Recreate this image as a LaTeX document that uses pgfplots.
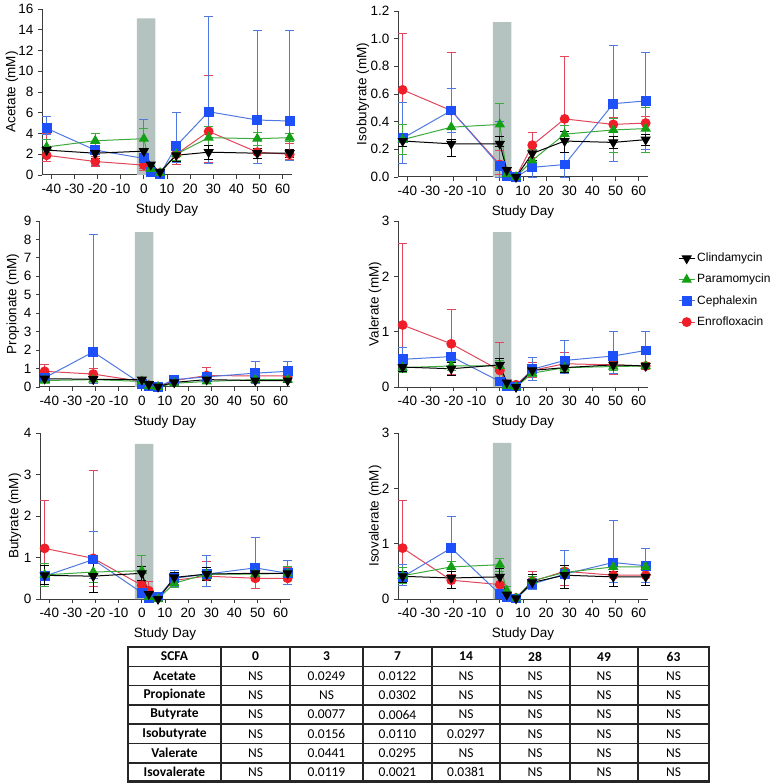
\documentclass[border=0pt]{standalone}
\usepackage{pgfplots}
\pgfplotsset{compat=1.18}
\usepackage{fontspec}
\setmainfont{Liberation Sans}
\newfontfamily\tabfont{Carlito}
\newcommand\tkfont{\fontsize{13.5}{15}\selectfont}
\newcommand\lbfont{\fontsize{13.5}{15}\selectfont}
\newcommand\lgfont{\fontsize{12}{14}\selectfont}
\newcommand\tbfont{\tabfont\fontsize{13.5}{15}\selectfont}
\newcommand\tbbfont{\tabfont\bfseries\fontsize{13.5}{15}\selectfont}
\definecolor{cgreen}{RGB}{20,160,20}
\definecolor{cgreenl}{RGB}{60,170,60}
\definecolor{cblue}{RGB}{30,80,250}
\definecolor{cbluel}{RGB}{80,120,225}
\definecolor{cred}{RGB}{240,30,40}
\definecolor{credl}{RGB}{225,70,90}
\definecolor{barc}{RGB}{180,194,192}
\definecolor{axc}{RGB}{60,60,60}
\pgfplotsset{
  panel/.style={
    scale only axis, width=250pt, height=166pt,
    axis lines=left, axis line style={-, line width=1pt, axc},
    xmin=-44, xmax=64, ymin=0, clip=false,
    xtick={-40,-30,...,60},
    xticklabels={-40,-30,-20,-10,0,10,20,30,40,50,60},
    tick align=outside, major tick length=4pt,
    tick style={line width=0.9pt, axc},
    xticklabel style={font=\tkfont},
    yticklabel style={font=\tkfont},
    xlabel={Study Day},
    xlabel style={font=\lbfont, at={(axis description cs:0.5,0)}, anchor=north, yshift=-24pt},
    every axis y label/.style={rotate=90, anchor=center, font=\lbfont},
  },
  ylab/.style={ylabel style={at={([xshift=-#1]axis description cs:0,0.5)}}},
  mylegimg/.style={legend image code/.code={\draw[mark repeat=2,mark phase=2,##1] plot coordinates {(0pt,0pt) (8pt,0pt) (16pt,0pt)};}},
  clin/.style={color=black, line width=1pt, mark=triangle*, mark size=5pt,
    mark options={rotate=180, fill=black, draw=black},
    error bars/.cd, y dir=both, y explicit,
    error bar style={line width=0.8pt, black},
    error mark options={rotate=90, mark size=4.5pt, line width=0.8pt, black}},
  para/.style={color=cgreenl, line width=1pt, mark=triangle*, mark size=5pt,
    mark options={fill=cgreen, draw=cgreen},
    error bars/.cd, y dir=both, y explicit,
    error bar style={line width=0.8pt, cgreenl},
    error mark options={rotate=90, mark size=4.5pt, line width=0.8pt, cgreenl}},
  ceph/.style={color=cbluel, line width=1pt, mark=square*, mark size=4.4pt,
    mark options={fill=cblue, draw=cblue},
    error bars/.cd, y dir=both, y explicit,
    error bar style={line width=0.8pt, cbluel},
    error mark options={rotate=90, mark size=4.5pt, line width=0.8pt, cbluel}},
  enro/.style={color=credl, line width=1pt, mark=*, mark size=4.4pt,
    mark options={fill=cred, draw=cred},
    error bars/.cd, y dir=both, y explicit,
    error bar style={line width=0.8pt, credl},
    error mark options={rotate=90, mark size=4.5pt, line width=0.8pt, credl}},
  table/tbl/.style={x=x,y=y,y error plus=p,y error minus=m,row sep=\\},
}
\begin{document}
\fontsize{13.5}{15}\selectfont
\begin{tikzpicture}
% Acetate
\begin{axis}[panel, at={(42pt,-9pt)}, anchor=north west, ymax=16,
  ytick={0,2,...,16}, yticklabels={0,2,4,6,8,10,12,14,16}, ylabel={Acetate (mM)}, ylab=30pt]
\addplot[draw=none, fill=barc, forget plot] coordinates {(-3,0) (5,0) (5,15.1) (-3,15.1)} \closedcycle;
\addplot[enro] table[tbl]{x y p m\\-42 1.9 2.1 0.6\\-21 1.3 0.5 0.5\\0 0.95 0.6 0.5\\3 0.3 0.2 0.2\\7 0.2 0.1 0.1\\14 2.0 1.1 1.0\\28 4.2 5.4 3.0\\49 2.2 1.2 1.1\\63 2.0 1.0 0.5\\};
\addplot[ceph] table[tbl]{x y p m\\-42 4.5 1.1 0.6\\-21 2.4 1.6 1.5\\0 1.6 3.8 1.0\\3 0.3 0.2 0.2\\7 0.05 0.05 0.05\\14 2.8 3.2 1.6\\28 6.1 9.2 5.0\\49 5.3 8.6 4.2\\63 5.2 8.7 3.8\\};
\addplot[para] table[tbl]{x y p m\\-42 2.7 0.7 0.7\\-21 3.3 0.7 0.7\\0 3.5 1.0 1.0\\3 0.6 0.3 0.3\\7 0.2 0.1 0.1\\14 2.0 0.6 0.6\\28 3.6 1.1 1.1\\49 3.5 0.6 0.6\\63 3.6 0.4 0.4\\};
\addplot[clin] table[tbl]{x y p m\\-42 2.4 0.4 0.4\\-21 2.1 0.5 0.5\\0 2.3 0.3 0.3\\3 1.0 0.2 0.2\\7 0.3 0.1 0.1\\14 1.9 0.6 0.6\\28 2.2 0.7 0.7\\49 2.1 0.5 0.5\\63 2.1 0.4 0.4\\};
\end{axis}
% Isobutyrate
\begin{axis}[panel, at={(398pt,-11pt)}, anchor=north west, ymax=1.2,
  ytick={0,0.2,0.4,0.6,0.8,1.0,1.2}, yticklabels={0.0,0.2,0.4,0.6,0.8,1.0,1.2}, ylabel={Isobutyrate (mM)}, ylab=35pt]
\addplot[draw=none, fill=barc, forget plot] coordinates {(-3,0) (5,0) (5,1.12) (-3,1.12)} \closedcycle;
\addplot[enro] table[tbl]{x y p m\\-42 0.63 0.41 0.41\\-21 0.48 0.42 0.33\\0 0.09 0.10 0.07\\3 0.04 0.02 0.02\\7 0.0 0.01 0.0\\14 0.23 0.09 0.09\\28 0.42 0.45 0.24\\49 0.38 0.05 0.05\\63 0.39 0.05 0.05\\};
\addplot[ceph] table[tbl]{x y p m\\-42 0.28 0.26 0.18\\-21 0.48 0.16 0.16\\0 0.08 0.32 0.08\\3 0.01 0.01 0.01\\7 0.0 0.0 0.0\\14 0.07 0.15 0.07\\28 0.09 0.09 0.09\\49 0.53 0.42 0.42\\63 0.55 0.35 0.35\\};
\addplot[para] table[tbl]{x y p m\\-42 0.27 0.11 0.11\\-21 0.36 0.12 0.11\\0 0.38 0.15 0.16\\3 0.02 0.01 0.01\\7 0.0 0.0 0.0\\14 0.12 0.08 0.07\\28 0.31 0.06 0.06\\49 0.34 0.08 0.16\\63 0.35 0.15 0.17\\};
\addplot[clin] table[tbl]{x y p m\\-42 0.26 0.04 0.04\\-21 0.24 0.03 0.09\\0 0.24 0.05 0.02\\3 0.05 0.02 0.02\\7 0.0 0.0 0.0\\14 0.17 0.05 0.05\\28 0.26 0.07 0.08\\49 0.25 0.04 0.04\\63 0.27 0.04 0.04\\};
\end{axis}
% Propionate
\begin{axis}[panel, at={(40pt,-221pt)}, anchor=north west, ymax=9,
  ytick={0,1,...,9}, yticklabels={0,1,2,3,4,5,6,7,8,9}, ylabel={Propionate (mM)}, ylab=27pt]
\addplot[draw=none, fill=barc, forget plot] coordinates {(-3,0) (5,0) (5,8.4) (-3,8.4)} \closedcycle;
\addplot[enro] table[tbl]{x y p m\\-42 0.85 0.4 0.4\\-21 0.7 0.3 0.3\\0 0.3 0.1 0.1\\3 0.1 0.05 0.05\\7 0.02 0.02 0.02\\14 0.35 0.1 0.1\\28 0.62 0.43 0.42\\49 0.6 0.2 0.2\\63 0.6 0.4 0.3\\};
\addplot[ceph] table[tbl]{x y p m\\-42 0.5 0.2 0.2\\-21 1.9 6.4 1.7\\0 0.15 0.1 0.1\\3 0.05 0.03 0.03\\7 0.02 0.02 0.02\\14 0.4 0.15 0.15\\28 0.55 0.15 0.15\\49 0.75 0.65 0.55\\63 0.85 0.55 0.55\\};
\addplot[para] table[tbl]{x y p m\\-42 0.35 0.1 0.1\\-21 0.4 0.1 0.1\\0 0.3 0.1 0.1\\3 0.05 0.03 0.03\\7 0.0 0.01 0.0\\14 0.2 0.08 0.08\\28 0.3 0.1 0.1\\49 0.4 0.1 0.1\\63 0.4 0.1 0.1\\};
\addplot[clin] table[tbl]{x y p m\\-42 0.45 0.1 0.1\\-21 0.42 0.1 0.1\\0 0.4 0.1 0.1\\3 0.15 0.05 0.05\\7 0.02 0.02 0.02\\14 0.25 0.08 0.08\\28 0.4 0.1 0.1\\49 0.35 0.1 0.1\\63 0.35 0.1 0.1\\};
\end{axis}
% Valerate
\begin{axis}[panel, at={(398pt,-221pt)}, anchor=north west, ymax=3,
  ytick={0,1,2,3}, yticklabels={0,1,2,3}, ylabel={Valerate (mM)}, ylab=23pt,
  reverse legend, legend cell align=left, mylegimg,
  legend style={at={(1.12,0.82)}, anchor=north west, draw=none, fill=none,
    font=\lgfont, row sep=6.5pt, inner sep=0pt}]
\addplot[draw=none, fill=barc, forget plot] coordinates {(-3,0) (5,0) (5,2.8) (-3,2.8)} \closedcycle;
\addplot[enro] table[tbl]{x y p m\\-42 1.12 1.48 0.82\\-21 0.78 0.62 0.55\\0 0.3 0.5 0.2\\3 0.05 0.03 0.03\\7 0.04 0.02 0.02\\14 0.3 0.15 0.12\\28 0.42 0.21 0.17\\49 0.4 0.1 0.18\\63 0.38 0.05 0.05\\};
\addlegendentry{Enrofloxacin}
\addplot[ceph] table[tbl]{x y p m\\-42 0.5 0.22 0.2\\-21 0.55 0.2 0.2\\0 0.1 0.05 0.05\\3 0.02 0.02 0.02\\7 0.01 0.01 0.01\\14 0.32 0.21 0.2\\28 0.48 0.36 0.23\\49 0.56 0.44 0.31\\63 0.66 0.34 0.34\\};
\addlegendentry{Cephalexin}
\addplot[para] table[tbl]{x y p m\\-42 0.35 0.08 0.08\\-21 0.38 0.08 0.08\\0 0.38 0.1 0.1\\3 0.02 0.02 0.02\\7 0.0 0.01 0.0\\14 0.25 0.06 0.06\\28 0.35 0.07 0.07\\49 0.37 0.07 0.07\\63 0.38 0.06 0.06\\};
\addlegendentry{Paramomycin}
\addplot[clin] table[tbl]{x y p m\\-42 0.36 0.08 0.08\\-21 0.33 0.12 0.12\\0 0.4 0.12 0.12\\3 0.08 0.03 0.03\\7 0.0 0.01 0.0\\14 0.3 0.06 0.06\\28 0.35 0.08 0.08\\49 0.4 0.06 0.06\\63 0.38 0.05 0.05\\};
\addlegendentry{Clindamycin}
\end{axis}
% Butyrate
\begin{axis}[panel, at={(40pt,-433pt)}, anchor=north west, ymax=4,
  ytick={0,1,2,3,4}, yticklabels={0,1,2,3,4}, ylabel={Butyrate (mM)}, ylab=25pt]
\addplot[draw=none, fill=barc, forget plot] coordinates {(-3,0) (5,0) (5,3.74) (-3,3.74)} \closedcycle;
\addplot[enro] table[tbl]{x y p m\\-42 1.22 1.16 0.87\\-21 0.98 2.12 0.68\\0 0.33 0.1 0.1\\3 0.2 0.22 0.15\\7 0.05 0.03 0.03\\14 0.45 0.1 0.1\\28 0.55 0.35 0.25\\49 0.5 0.25 0.25\\63 0.5 0.25 0.15\\};
\addplot[ceph] table[tbl]{x y p m\\-42 0.55 0.27 0.25\\-21 0.95 0.67 0.45\\0 0.15 0.1 0.1\\3 0.02 0.02 0.02\\7 0.05 0.03 0.03\\14 0.5 0.2 0.2\\28 0.6 0.44 0.3\\49 0.75 0.73 0.3\\63 0.62 0.31 0.27\\};
\addplot[para] table[tbl]{x y p m\\-42 0.58 0.27 0.28\\-21 0.65 0.27 0.25\\0 0.68 0.37 0.38\\3 0.05 0.03 0.03\\7 0.0 0.01 0.0\\14 0.38 0.1 0.1\\28 0.6 0.12 0.12\\49 0.6 0.12 0.12\\63 0.62 0.16 0.17\\};
\addplot[clin] table[tbl]{x y p m\\-42 0.57 0.23 0.22\\-21 0.55 0.4 0.4\\0 0.62 0.16 0.17\\3 0.12 0.05 0.05\\7 0.0 0.01 0.0\\14 0.52 0.12 0.12\\28 0.6 0.15 0.15\\49 0.62 0.1 0.1\\63 0.62 0.1 0.1\\};
\end{axis}
% Isovalerate
\begin{axis}[panel, at={(398pt,-433pt)}, anchor=north west, ymax=3,
  ytick={0,1,2,3}, yticklabels={0,1,2,3}, ylabel={Isovalerate (mM)}, ylab=23pt]
\addplot[draw=none, fill=barc, forget plot] coordinates {(-3,0) (5,0) (5,2.82) (-3,2.82)} \closedcycle;
\addplot[enro] table[tbl]{x y p m\\-42 0.92 0.86 0.62\\-21 0.34 0.11 0.14\\0 0.26 0.14 0.16\\3 0.05 0.03 0.03\\7 0.02 0.02 0.02\\14 0.32 0.18 0.12\\28 0.5 0.38 0.25\\49 0.43 0.17 0.21\\63 0.43 0.12 0.13\\};
\addplot[ceph] table[tbl]{x y p m\\-42 0.4 0.22 0.15\\-21 0.92 0.58 0.57\\0 0.09 0.05 0.05\\3 0.03 0.02 0.02\\7 0.01 0.01 0.01\\14 0.27 0.1 0.1\\28 0.45 0.42 0.25\\49 0.66 0.76 0.36\\63 0.6 0.32 0.3\\};
\addplot[para] table[tbl]{x y p m\\-42 0.42 0.16 0.14\\-21 0.58 0.1 0.18\\0 0.62 0.12 0.12\\3 0.15 0.07 0.07\\7 0.01 0.01 0.01\\14 0.33 0.08 0.08\\28 0.48 0.08 0.08\\49 0.58 0.08 0.08\\63 0.58 0.08 0.13\\};
\addplot[clin] table[tbl]{x y p m\\-42 0.41 0.09 0.11\\-21 0.38 0.12 0.18\\0 0.4 0.15 0.15\\3 0.08 0.03 0.03\\7 0.01 0.01 0.01\\14 0.3 0.15 0.1\\28 0.43 0.17 0.23\\49 0.4 0.1 0.18\\63 0.4 0.15 0.15\\};
\end{axis}
% Table
\begin{scope}[x=1pt, y=-1pt]
\draw[line width=1.6pt, black!85] (221,647) -- (221,781.5) (290,647) -- (290,781.5) (363,647) -- (363,781.5) (432,647) -- (432,781.5) (500,647) -- (500,781.5) (570,647) -- (570,781.5) (638,647) -- (638,781.5);
\draw[line width=1.6pt, black!85] (128,666.3) -- (709,666.3) (128,685.6) -- (709,685.6) (128,704.9) -- (709,704.9) (128,724.1) -- (709,724.1) (128,743.4) -- (709,743.4) (128,762.7) -- (709,762.7);
\draw[line width=2.2pt, black!85] (128,647) rectangle (709,781.5);
\tikzset{tc/.style={font=\tbfont, inner sep=0pt, anchor=center},
  tb/.style={font=\tbbfont, inner sep=0pt, anchor=center}}
\node[tb] at (174.5,656.6) {SCFA};
\node[tb] at (255.5,656.6) {0};
\node[tb] at (326.5,656.6) {3};
\node[tb] at (397.5,656.6) {7};
\node[tb] at (466,656.6) {14};
\node[tb] at (535,656.6) {28};
\node[tb] at (604,656.6) {49};
\node[tb] at (673.5,656.6) {63};
% rows
\node[tb] at (174.5,675.9) {Acetate};
\node[tc] at (255.5,675.9) {NS};
\node[tc] at (326.5,675.9) {0.0249};
\node[tc] at (397.5,675.9) {0.0122};
\node[tc] at (466,675.9) {NS};
\node[tc] at (535,675.9) {NS};
\node[tc] at (604,675.9) {NS};
\node[tc] at (673.5,675.9) {NS};
\node[tb] at (174.5,695.2) {Propionate};
\node[tc] at (255.5,695.2) {NS};
\node[tc] at (326.5,695.2) {NS};
\node[tc] at (397.5,695.2) {0.0302};
\node[tc] at (466,695.2) {NS};
\node[tc] at (535,695.2) {NS};
\node[tc] at (604,695.2) {NS};
\node[tc] at (673.5,695.2) {NS};
\node[tb] at (174.5,714.5) {Butyrate};
\node[tc] at (255.5,714.5) {NS};
\node[tc] at (326.5,714.5) {0.0077};
\node[tc] at (397.5,714.5) {0.0064};
\node[tc] at (466,714.5) {NS};
\node[tc] at (535,714.5) {NS};
\node[tc] at (604,714.5) {NS};
\node[tc] at (673.5,714.5) {NS};
\node[tb] at (174.5,733.8) {Isobutyrate};
\node[tc] at (255.5,733.8) {NS};
\node[tc] at (326.5,733.8) {0.0156};
\node[tc] at (397.5,733.8) {0.0110};
\node[tc] at (466,733.8) {0.0297};
\node[tc] at (535,733.8) {NS};
\node[tc] at (604,733.8) {NS};
\node[tc] at (673.5,733.8) {NS};
\node[tb] at (174.5,753.1) {Valerate};
\node[tc] at (255.5,753.1) {NS};
\node[tc] at (326.5,753.1) {0.0441};
\node[tc] at (397.5,753.1) {0.0295};
\node[tc] at (466,753.1) {NS};
\node[tc] at (535,753.1) {NS};
\node[tc] at (604,753.1) {NS};
\node[tc] at (673.5,753.1) {NS};
\node[tb] at (174.5,772.3) {Isovalerate};
\node[tc] at (255.5,772.3) {NS};
\node[tc] at (326.5,772.3) {0.0119};
\node[tc] at (397.5,772.3) {0.0021};
\node[tc] at (466,772.3) {0.0381};
\node[tc] at (535,772.3) {NS};
\node[tc] at (604,772.3) {NS};
\node[tc] at (673.5,772.3) {NS};
\end{scope}
\pgfresetboundingbox
\path[use as bounding box] (0pt,0pt) rectangle (780pt,-783pt);
\end{tikzpicture}
\end{document}
